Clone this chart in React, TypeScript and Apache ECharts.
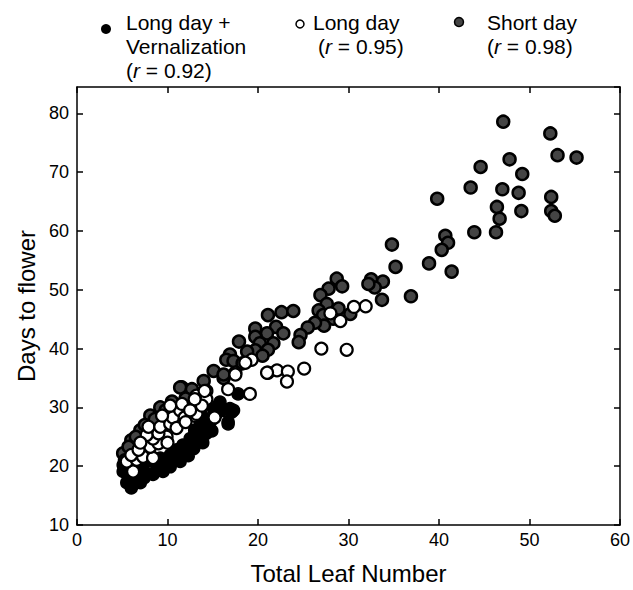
import React, { useEffect, useRef } from "react";
import * as echarts from "echarts";

// Total Leaf Number vs Days to flower
const longDayVern: number[][] = [
  [6.0, 16.3], [5.5, 17.2], [5.1, 19.1], [6.6, 18.0], [7.7, 18.8], [8.8, 19.4], [9.9, 20.2],
  [11.0, 21.1], [12.1, 22.5], [12.5, 23.9], [13.6, 24.7], [14.0, 26.4], [15.4, 28.9], [16.2, 29.5],
  [16.7, 27.2], [17.3, 29.5], [17.8, 32.3], [5.9, 17.7], [7.0, 17.2], [8.4, 18.6], [9.5, 19.1],
  [10.3, 19.9], [11.4, 20.8], [11.7, 21.9], [12.9, 23.0], [13.2, 25.3], [14.3, 25.6], [14.7, 27.5],
  [15.1, 29.7], [15.8, 30.9], [5.1, 20.2], [6.6, 19.4], [7.3, 20.2], [8.4, 20.8], [9.2, 21.4],
  [10.3, 21.9], [11.0, 22.8], [11.7, 23.6], [12.5, 24.7], [13.0, 26.1], [13.6, 27.5], [13.8, 28.6],
  [8.1, 21.9], [6.2, 20.8], [17.1, 29.2], [16.7, 27.5], [15.6, 30.3], [16.9, 29.8], [6.3, 17.0],
  [7.4, 18.0], [9.0, 20.3], [10.7, 20.9], [12.3, 21.8], [13.9, 24.0], [14.9, 26.0],
];

const longDay: number[][] = [
  [31.9, 47.2], [30.6, 47.1], [29.1, 44.7], [27.0, 40.0], [29.8, 39.8], [25.1, 36.6], [21.1, 35.9],
  [22.1, 36.3], [23.3, 36.1], [23.2, 34.4], [19.3, 38.1], [18.6, 37.6], [17.5, 35.9], [16.7, 33.1],
  [19.1, 32.3], [14.3, 32.8], [13.2, 32.0], [14.3, 31.4], [15.1, 28.2], [13.0, 28.6], [6.2, 19.1],
  [5.5, 20.8], [6.6, 21.1], [7.3, 21.6], [8.4, 21.4], [6.0, 21.9], [6.8, 22.8], [8.1, 23.3],
  [9.0, 23.9], [8.4, 24.7], [9.9, 25.0], [7.7, 25.3], [9.0, 25.6], [7.9, 26.7], [9.2, 26.7],
  [10.3, 27.2], [10.6, 28.3], [11.4, 29.5], [11.6, 30.6], [11.9, 28.3], [13.2, 28.9], [13.8, 30.3],
  [13.0, 31.4], [14.1, 32.8], [15.2, 28.3], [17.5, 35.6], [10.3, 30.3], [9.4, 28.6], [21.0, 35.9],
  [12.5, 29.5], [11.0, 26.5], [10.0, 24.0], [7.0, 24.0], [12.0, 27.5], [28.0, 46.0],
];

const shortDay: number[][] = [
  [47.1, 78.6], [52.3, 76.6], [53.1, 72.9], [55.2, 72.5], [47.8, 72.2], [44.6, 70.9], [49.2, 69.7],
  [43.5, 67.4], [47.0, 67.1], [48.8, 66.5], [52.4, 65.8], [39.8, 65.5], [46.4, 64.1], [49.1, 63.4],
  [52.4, 63.4], [52.8, 62.6], [46.7, 62.1], [43.9, 59.8], [46.3, 59.8], [40.7, 59.2], [41.0, 58.0],
  [40.3, 56.8], [34.8, 57.7], [38.9, 54.5], [35.2, 53.9], [41.4, 53.1], [33.8, 51.4], [33.7, 48.3],
  [36.9, 48.9], [32.5, 51.8], [32.9, 50.4], [32.2, 51.0], [28.7, 51.9], [29.3, 50.6], [27.8, 50.2],
  [26.9, 49.1], [27.6, 47.6], [26.7, 46.5], [27.2, 45.7], [28.9, 46.8], [30.2, 45.9], [28.3, 45.1],
  [27.3, 43.9], [26.3, 44.4], [25.5, 43.6], [24.7, 42.3], [24.5, 41.1], [21.1, 45.7], [22.6, 46.2],
  [23.9, 46.4], [19.7, 43.4], [22.0, 43.7], [21.0, 42.6], [22.8, 42.6], [19.7, 42.0], [21.7, 40.9],
  [20.2, 40.9], [21.1, 39.8], [17.9, 41.2], [19.7, 39.7], [16.9, 39.0], [16.5, 38.1], [17.3, 37.9],
  [15.1, 36.2], [16.2, 35.0], [11.6, 33.4], [12.7, 32.8], [5.1, 22.2], [6.0, 24.4], [7.0, 26.1],
  [8.1, 28.6], [9.2, 30.0], [11.4, 33.4], [12.7, 33.1], [16.2, 35.6], [5.3, 21.0], [5.7, 23.3],
  [6.5, 25.0], [7.5, 27.0], [8.6, 28.0], [9.8, 29.5], [10.5, 31.0], [12.0, 31.5], [14.0, 34.5],
  [18.3, 37.5], [18.8, 39.5], [20.5, 38.8],
];

const xTicks = { min: 0, max: 60, interval: 10 };
const yTicks = { min: 10, max: 84.5, interval: 10 };

const FONT = "'Liberation Sans', Arial, sans-serif";

export default function App() {
  const ref = useRef<HTMLDivElement>(null);
  useEffect(() => {
    if (!ref.current) return;
    const chart = echarts.init(ref.current, undefined, { renderer: "svg" });
    const tickStyle = { lineStyle: { color: "#000", width: 1.5 } };
    const legendText = (x: number, y: number, rich: boolean, text: string) => ({
      type: "text",
      x,
      y,
      style: {
        text,
        fontFamily: FONT,
        fontSize: 21,
        fill: "#000",
        textVerticalAlign: "middle",
        rich: rich
          ? { i: { fontStyle: "italic", fontFamily: FONT, fontSize: 21, fill: "#000" } }
          : undefined,
      },
    });
    const option: any = {
      animation: false,
      grid: { left: 77, right: 12, top: 87, bottom: 59, containLabel: false },
      xAxis: [
        {
          type: "value",
          ...xTicks,
          position: "bottom",
          axisLine: { show: true, onZero: false, lineStyle: { color: "#000", width: 1.5 } },
          axisTick: { show: true, inside: true, length: 6, ...tickStyle },
          axisLabel: { color: "#000", fontSize: 18, fontFamily: FONT, margin: 6 },
          splitLine: { show: false },
          name: "Total Leaf Number",
          nameLocation: "middle",
          nameGap: 36,
          nameTextStyle: { color: "#000", fontSize: 24, fontFamily: FONT },
        },
        {
          type: "value",
          ...xTicks,
          position: "top",
          axisLine: { show: true, onZero: false, lineStyle: { color: "#000", width: 1.5 } },
          axisTick: { show: true, inside: true, length: 6, ...tickStyle },
          axisLabel: { show: false },
          splitLine: { show: false },
        },
      ],
      yAxis: [
        {
          type: "value",
          ...yTicks,
          position: "left",
          axisLine: { show: true, onZero: false, lineStyle: { color: "#000", width: 1.5 } },
          axisTick: { show: true, inside: true, length: 6, ...tickStyle },
          axisLabel: { color: "#000", fontSize: 18, fontFamily: FONT, margin: 8, showMaxLabel: false },
          splitLine: { show: false },
          name: "Days to flower",
          nameLocation: "middle",
          nameGap: 38,
          nameRotate: 90,
          nameTextStyle: { color: "#000", fontSize: 24, fontFamily: FONT },
        },
        {
          type: "value",
          ...yTicks,
          position: "right",
          axisLine: { show: true, onZero: false, lineStyle: { color: "#000", width: 1.5 } },
          axisTick: { show: true, inside: true, length: 6, ...tickStyle },
          axisLabel: { show: false },
          splitLine: { show: false },
        },
      ],
      series: [
        {
          name: "Long day + Vernalization",
          type: "scatter",
          data: longDayVern,
          symbol: "circle",
          symbolSize: 12,
          itemStyle: { color: "#000", borderColor: "#000", borderWidth: 1.5, opacity: 1 },
        },
        {
          name: "Short day",
          type: "scatter",
          data: shortDay,
          symbol: "circle",
          symbolSize: 12,
          itemStyle: { color: "#444", borderColor: "#000", borderWidth: 2.5, opacity: 1 },
        },
        {
          name: "Long day",
          type: "scatter",
          data: longDay,
          symbol: "circle",
          symbolSize: 12,
          itemStyle: { color: "#fff", borderColor: "#000", borderWidth: 2.2, opacity: 1 },
        },
      ],
      graphic: [
        { type: "circle", shape: { cx: 106, cy: 29, r: 5 }, style: { fill: "#000" } },
        legendText(126, 22, false, "Long day +"),
        legendText(126, 46, false, "Vernalization"),
        legendText(126, 70, true, "({i|r} = 0.92)"),
        { type: "circle", shape: { cx: 300, cy: 24, r: 4 }, style: { fill: "#fff", stroke: "#000", lineWidth: 1.5 } },
        legendText(313, 22, false, "Long day"),
        legendText(318, 46, true, "({i|r} = 0.95)"),
        { type: "circle", shape: { cx: 459, cy: 22, r: 4.5 }, style: { fill: "#444", stroke: "#000", lineWidth: 1.5 } },
        legendText(487, 22, false, "Short day"),
        legendText(487, 46, true, "({i|r} = 0.98)"),
      ],
    };
    chart.setOption(option);
    return () => chart.dispose();
  }, []);
  return (
    <div
      ref={ref}
      style={{ position: "fixed", left: 0, top: 0, width: 633, height: 590, background: "#fff" }}
    />
  );
}
